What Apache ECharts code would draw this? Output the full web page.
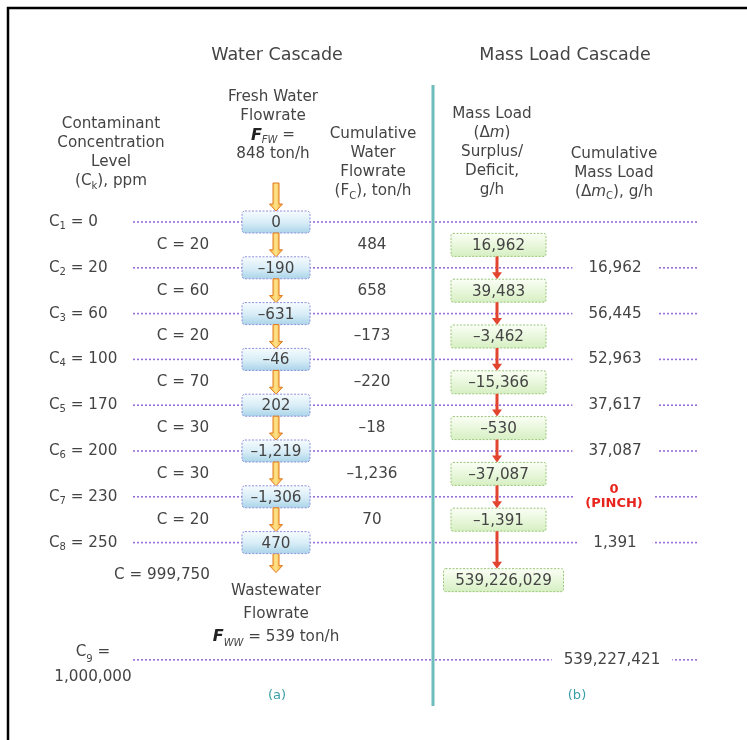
<!DOCTYPE html>
<html><head><meta charset="utf-8">
<script src="https://cdn.jsdelivr.net/npm/echarts@6/dist/echarts.min.js"></script>
<style>html,body{margin:0;padding:0;background:#fff}#c{width:747px;height:740px}</style>
</head><body><div id="c"></div>
<script>
// ---------- data ----------
const levelValues  = ['0','20','60','100','170','200','230','250','1,000,000'];   // C_k, ppm
const intervalC    = ['20','60','20','70','30','30','20','999,750'];             // C of each interval
const waterCascade = ['0','\u2013190','\u2013631','\u201346','202','\u20131,219','\u20131,306','470']; // ton/h
const cumWaterFlow = ['484','658','\u2013173','\u2013220','\u201318','\u20131,236','70'];            // F_C, ton/h
const massLoad     = ['16,962','39,483','\u20133,462','\u201315,366','\u2013530','\u201337,087','\u20131,391','539,226,029']; // g/h
const cumMassLoad  = ['16,962','56,445','52,963','37,617','37,087','0','1,391','539,227,421'];  // g/h
const freshWater = '848', wasteWater = '539';

// ---------- layout ----------
const PITCH = 45.8, ROW0 = 222;
const levelRow = k => k < 8 ? k : 9.56;
const intervalRow = j => j < 7 ? j + 0.5 : 7.71;
const massRow = j => j < 7 ? j + 0.5 : 7.82;
const FONT = 'DejaVu Sans', FS = 15.2, TXT = '#444444';
const LINE = '#9a70d6';

function rs(o){ return Object.assign({fontFamily:FONT, fontSize:FS, fill:TXT, color:TXT}, o||{}); }
const baseRich = {
  c: rs({lineHeight:19}),
  s: rs({fontSize:10, lineHeight:12, verticalAlign:'bottom'}),
  i: rs({fontStyle:'italic', lineHeight:19}),
  f: rs({fontStyle:'italic', fontWeight:'bold', fontSize:16, lineHeight:19, fill:'#222', color:'#222'}),
  fs: rs({fontStyle:'italic', fontSize:10, lineHeight:12, verticalAlign:'bottom'})
};

const waterGrad = () => new echarts.graphic.LinearGradient(0,0,0,1,[{offset:0,color:'#f7fcff'},{offset:0.55,color:'#d6ecf6'},{offset:1,color:'#a8d3e8'}]);
const massGrad  = () => new echarts.graphic.LinearGradient(0,0,0,1,[{offset:0,color:'#fbfff6'},{offset:1,color:'#d6efc2'}]);

function blockArrow(x, y1, y2){
  const h = Math.min(7, (y2-y1)*0.45);
  return {type:'polygon', shape:{points:[[x-3,y1],[x+3,y1],[x+3,y2-h],[x+6.5,y2-h],[x,y2],[x-6.5,y2-h],[x-3,y2-h]]},
    style:{fill:new echarts.graphic.LinearGradient(0,0,1,0,[{offset:0,color:'#f6b23c'},{offset:0.5,color:'#fde58a'},{offset:1,color:'#f09a2a'}]), stroke:'#e07820', lineWidth:1}};
}
function redArrow(x, y1, y2){
  return [{type:'line', shape:{x1:x,y1:y1,x2:x,y2:y2-6}, style:{stroke:'#e2452f', lineWidth:3}},
          {type:'polygon', shape:{points:[[x-5,y2-7],[x+5,y2-7],[x,y2]]}, style:{fill:'#e2452f'}}];
}

const chart = echarts.init(document.getElementById('c'), null, {renderer:'canvas'});
const yOf = (api, r) => api.coord([0, r])[1];

const option = {
  animation:false,
  grid:{left:0, right:0, top:0, bottom:0},
  xAxis:{type:'value', min:0, max:747, show:false},
  yAxis:{type:'value', min:-ROW0/PITCH, max:(740-ROW0)/PITCH, inverse:true, show:false},
  graphic:[
    {type:'rect', shape:{x:8, y:8, width:800, height:800}, style:{fill:'none', stroke:'#000', lineWidth:2.5}, z:0},
    {type:'line', shape:{x1:433, y1:85, x2:433, y2:706}, style:{stroke:'#6fbcbc', lineWidth:3}, z:5},
    {type:'text', x:277, y:55, style:{text:'Water Cascade', align:'center', verticalAlign:'middle', fontFamily:FONT, fontSize:17.5, fill:TXT}},
    {type:'text', x:565, y:55, style:{text:'Mass Load Cascade', align:'center', verticalAlign:'middle', fontFamily:FONT, fontSize:17.5, fill:TXT}},
    {type:'text', x:111, y:153, style:{text:'{c|Contaminant}\n{c|Concentration}\n{c|Level}\n{c|(C}{s|k}{c|), ppm}', align:'center', verticalAlign:'middle', rich:baseRich}},
    {type:'text', x:273, y:126, style:{text:'{c|Fresh Water}\n{c|Flowrate}\n{f|F}{fs|FW}{c| =}\n{c|' + freshWater + ' ton/h}', align:'center', verticalAlign:'middle', rich:baseRich}},
    {type:'text', x:373, y:163, style:{text:'{c|Cumulative}\n{c|Water}\n{c|Flowrate}\n{c|(F}{s|C}{c|), ton/h}', align:'center', verticalAlign:'middle', rich:baseRich}},
    {type:'text', x:492, y:152, style:{text:'{c|Mass Load}\n{c|(\u0394}{i|m}{c|)}\n{c|Surplus/}\n{c|Deficit,}\n{c|g/h}', align:'center', verticalAlign:'middle', rich:baseRich}},
    {type:'text', x:614, y:173, style:{text:'{c|Cumulative}\n{c|Mass Load}\n{c|(\u0394}{i|m}{s|C}{c|), g/h}', align:'center', verticalAlign:'middle', rich:baseRich}},
    {type:'text', x:276, y:614, style:{text:'{c|Wastewater}\n{c|Flowrate}\n{f|F}{fs|WW}{c| = ' + wasteWater + ' ton/h}', align:'center', verticalAlign:'middle', rich:{
      c: rs({lineHeight:23}), f: baseRich.f, fs: baseRich.fs}}},
    {type:'text', x:277, y:696, style:{text:'(a)', align:'center', verticalAlign:'middle', fontFamily:FONT, fontSize:13, fill:'#3a9ea6'}},
    {type:'text', x:577, y:696, style:{text:'(b)', align:'center', verticalAlign:'middle', fontFamily:FONT, fontSize:13, fill:'#3a9ea6'}}
  ],
  series:[
    { // concentration levels
      type:'custom', silent:true, z:1,
      data: levelValues.map((v,k)=>[k, levelRow(k)]),
      renderItem(params, api){
        const k = api.value(0), y = yOf(api, api.value(1));
        const ln = (x1,x2)=>({type:'line', shape:{x1:x1,y1:y,x2:x2,y2:y}, style:{stroke:LINE, lineWidth:1.6, lineDash:[2,2]}});
        const ch = [ln(133,431), ln(435,697)];
        if (k < levelValues.length-1) {
          ch.push({type:'text', x:49, y:y, style:{text:'{c|C}{s|'+(k+1)+'}{c| = '+levelValues[k]+'}', align:'left', verticalAlign:'middle', rich:baseRich}});
        } else {
          ch.push({type:'text', x:93, y:y+5, style:{text:'{c|C}{s|'+(k+1)+'}{c| =}\n{c|'+levelValues[k]+'}', align:'center', verticalAlign:'middle', rich:{c:rs({lineHeight:25}), s:baseRich.s}}});
        }
        return {type:'group', children:ch};
      }
    },
    { // water cascade boxes + arrows
      type:'custom', silent:true, z:3,
      data: waterCascade.map((v,i)=>[i, levelRow(i)]),
      renderItem(params, api){
        const i = api.value(0), y = yOf(api, api.value(1)), x = 276, w = 68, h = 22;
        const ch = [];
        const yPrev = i === 0 ? 183 : yOf(api, levelRow(i-1)) + h/2;
        ch.push(blockArrow(x, yPrev, y - h/2));
        if (i === waterCascade.length-1) ch.push(blockArrow(x, y + h/2, y + 30));
        ch.push({type:'rect', shape:{x:x-w/2, y:y-h/2, width:w, height:h, r:3}, style:{fill:waterGrad(), stroke:'#8f8fdc', lineWidth:1, lineDash:[2,1.5]}});
        ch.push({type:'text', x:x, y:y+1, style:{text:waterCascade[i], align:'center', verticalAlign:'middle', fontFamily:FONT, fontSize:FS, fill:TXT}});
        return {type:'group', children:ch};
      }
    },
    { // interval labels: C and cumulative water flowrate
      type:'custom', silent:true, z:3,
      data: intervalC.map((v,j)=>[j, intervalRow(j)]),
      renderItem(params, api){
        const j = api.value(0), y = yOf(api, api.value(1));
        const ch = [{type:'text', x: j < cumWaterFlow.length ? 183 : 162, y:y, style:{text:'C = '+intervalC[j], align:'center', verticalAlign:'middle', fontFamily:FONT, fontSize:FS, fill:TXT}}];
        if (j < cumWaterFlow.length) ch.push({type:'text', x:372, y:y, style:{text:cumWaterFlow[j], align:'center', verticalAlign:'middle', fontFamily:FONT, fontSize:FS, fill:TXT}});
        return {type:'group', children:ch};
      }
    },
    { // mass load boxes + arrows
      type:'custom', silent:true, z:3,
      data: massLoad.map((v,j)=>[j, massRow(j)]),
      renderItem(params, api){
        const j = api.value(0), y = yOf(api, api.value(1)), h = 23;
        const last = j === massLoad.length-1;
        const w = last ? 120 : 95, x = last ? 503.5 : 498.5;
        const ch = [];
        if (j > 0) ch.push(...redArrow(497, yOf(api, massRow(j-1)) + h/2, y - h/2));
        ch.push({type:'rect', shape:{x:x-w/2, y:y-h/2, width:w, height:h, r:2}, style:{fill:massGrad(), stroke:'#9cc67a', lineWidth:1, lineDash:[2,1.5]}});
        ch.push({type:'text', x:x, y:y+1, style:{text:massLoad[j], align:'center', verticalAlign:'middle', fontFamily:FONT, fontSize:FS, fill:TXT}});
        return {type:'group', children:ch};
      }
    },
    { // cumulative mass load
      type:'custom', silent:true, z:4,
      data: cumMassLoad.map((v,j)=>[j, levelRow(j+1)]),
      renderItem(params, api){
        const j = api.value(0), y = yOf(api, api.value(1));
        const v = cumMassLoad[j];
        const last = j === cumMassLoad.length-1;
        if (v === '0') {
          return {type:'text', x:614, y:y, style:{text:'0\n(PINCH)', align:'center', verticalAlign:'middle', fontFamily:FONT, fontSize:13, fontWeight:'bold', lineHeight:14, fill:'#e8231b', backgroundColor:'#fff', padding:[0,12]}};
        }
        return {type:'text', x: last ? 612 : 615, y:y, style:{text:v, align:'center', verticalAlign:'middle', fontFamily:FONT, fontSize:FS, fill:TXT, backgroundColor:'#fff', padding:[2, last ? 12 : 16]}};
      }
    }
  ]
};
chart.setOption(option);
</script>
</body></html>
